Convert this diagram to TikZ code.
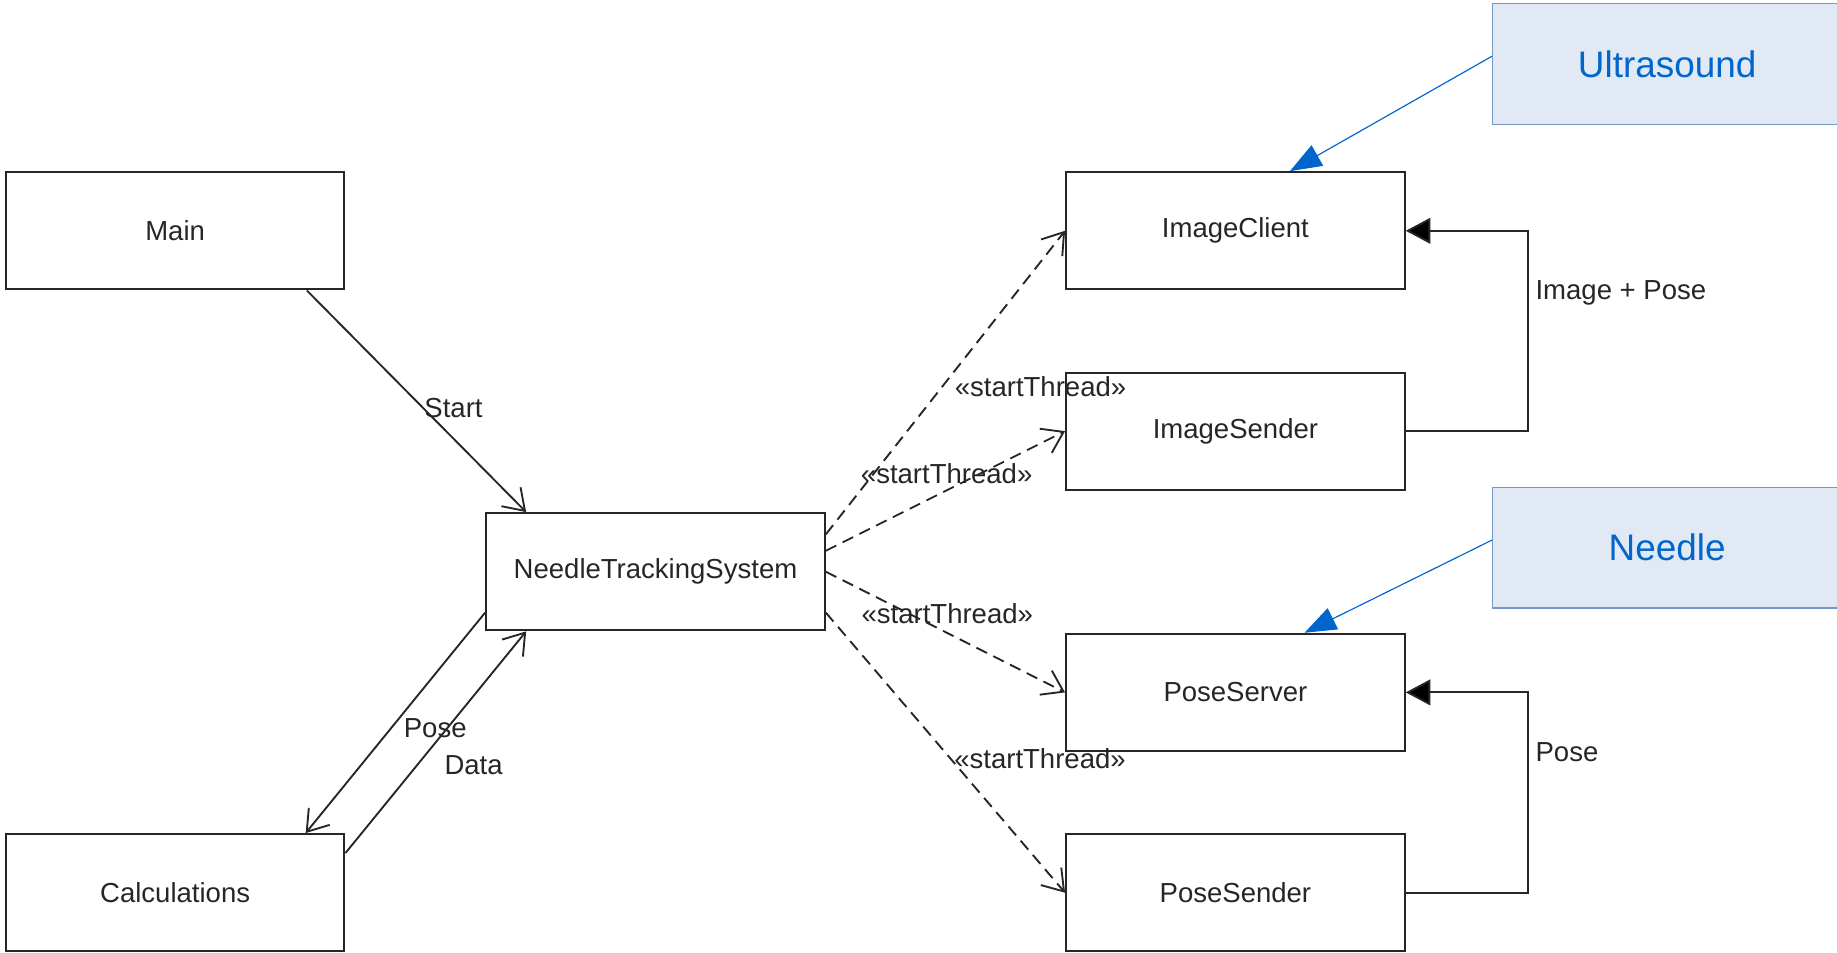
\documentclass[tikz,border=0pt]{standalone}
\usepackage{fontspec}
\setmainfont{Liberation Sans}
\usetikzlibrary{arrows.meta,calc}
\definecolor{linegray}{HTML}{262626}
\definecolor{notefill}{HTML}{E1E9F4}
\definecolor{noteline}{HTML}{7397C9}
\definecolor{noteblue}{HTML}{0066CC}
\tikzset{
  umlbox/.style={draw=linegray, line width=1.8pt, minimum width=289pt, minimum height=100pt, inner sep=0pt, text=linegray, font=\fontsize{23.5}{28}\selectfont},
  notebox/.style={draw=noteline, line width=1pt, fill=notefill, minimum width=298pt, minimum height=103pt, inner sep=0pt, text=noteblue, font=\fontsize{31.5}{36}\selectfont},
  lbl/.style={text=linegray, font=\fontsize{23.5}{28}\selectfont, inner sep=0pt},
  conn/.style={draw=linegray, line width=1.6pt, -{Straight Barb[length=17pt,width=23pt,line width=1.6pt]}},
  dep/.style={conn, dash pattern=on 10pt off 6pt},
  flow/.style={draw=linegray, line width=1.6pt, -{Triangle[length=21pt,width=22pt,fill=black]}},
  leader/.style={draw=noteblue, line width=1pt, -{Triangle[length=27pt,width=20pt]}}
}
\begin{document}
\begin{tikzpicture}[x=1pt,y=-1pt]
\useasboundingbox (0,0) rectangle (1568,813);
% boxes
\node[umlbox] (main) at (149.5,197) {Main};
\node[umlbox] (calc) at (149.5,762) {Calculations};
\node[umlbox] (nts) at (559.5,488) {NeedleTrackingSystem};
\node[umlbox] (iclient) at (1054.5,197) {ImageClient};
\node[umlbox] (isend) at (1054.5,368) {ImageSender};
\node[umlbox] (pserver) at (1054.5,591) {PoseServer};
\node[umlbox] (psend) at (1054.5,762) {PoseSender};
% notes
\node[notebox] (ultra) at (1423,54.5) {Ultrasound};
\node[notebox] (needle) at (1423,467.5) {Needle};
% left connectors
\draw[conn] ($(main.south east)+(-33,0)$) -- node[lbl, pos=0.53, xshift=26pt] {Start} ($(nts.north west)+(35,0)$);
\draw[conn] ($(nts.south west)+(0,-16)$) -- node[lbl, pos=0.526, xshift=38pt] {Pose} ($(calc.north east)+(-34,0)$);
\draw[conn] ($(calc.north east)+(0,17)$) -- node[lbl, pos=0.398, xshift=48pt] {Data} ($(nts.south west)+(35,0)$);
% dashed dependencies
\draw[dep] ($(nts.north east)+(0,19)$) -- node[lbl, pos=0.486, xshift=84pt] {«startThread»} (iclient.west);
\draw[dep] ($(nts.north east)+(0,33)$) -- node[lbl, pos=0.647, xshift=-29pt] {«startThread»} (isend.west);
\draw[dep] (nts.east) -- node[lbl, pos=0.346, xshift=33pt] {«startThread»} (pserver.west);
\draw[dep] ($(nts.south east)+(0,-16)$) -- node[lbl, pos=0.523, xshift=76pt] {«startThread»} (psend.west);
% right loops
\draw[flow] (isend.east) -- ++(104,0) |- node[lbl, pos=0.345, anchor=west, xshift=6pt] {Image + Pose} (iclient.east);
\draw[flow] (psend.east) -- ++(104,0) |- node[lbl, pos=0.35, anchor=west, xshift=6pt] {Pose} (pserver.east);
% note leaders
\draw[leader] ($(ultra.west)+(0,-6.5)$) -- ($(iclient.north)+(46.5,0)$);
\draw[leader] ($(needle.west)+(0,-6.5)$) -- ($(pserver.north)+(59,0)$);
\end{tikzpicture}
\end{document}
